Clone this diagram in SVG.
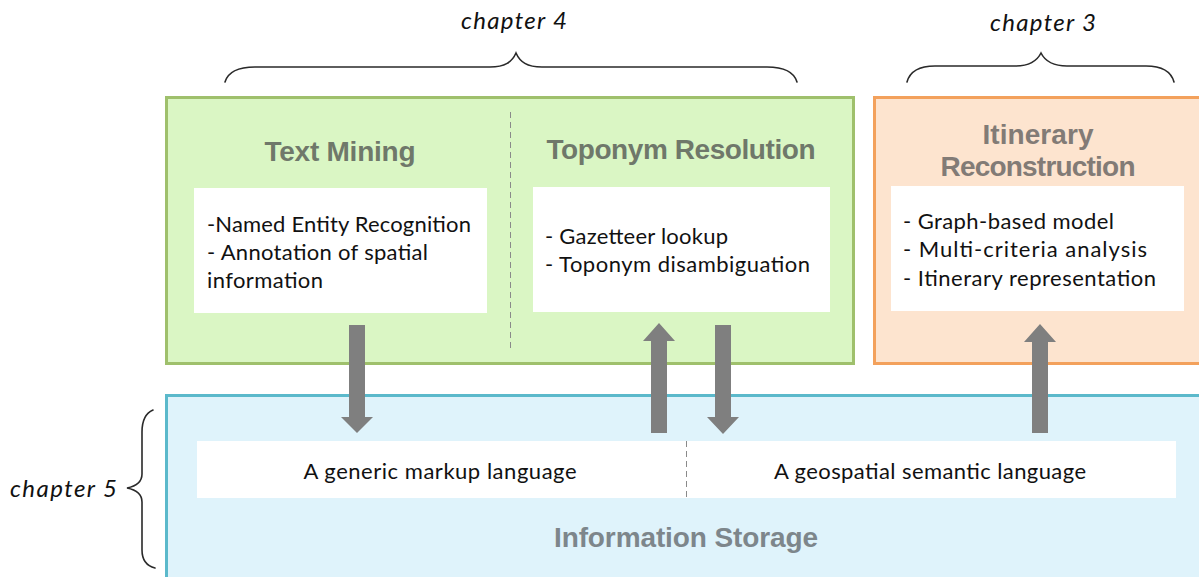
<svg xmlns="http://www.w3.org/2000/svg" width="1199" height="577" viewBox="0 0 1199 577">
<style>
.brace{fill:none;stroke:#2a2a2a;stroke-width:1.6;stroke-linecap:round}
.chap{font-family:Lato,"Liberation Sans",sans-serif;font-style:italic;font-size:24px;fill:#111}
.title{font-family:"Liberation Sans",Arial,sans-serif;font-weight:bold;font-size:28px;text-anchor:middle}
.body{font-family:Lato,"Liberation Sans",sans-serif;font-size:22px;fill:#111}
.wbox{fill:#ffffff}
.div{stroke:#8a8a8a;stroke-width:1;stroke-dasharray:6 4}
.arrow{fill:#7f7f7f}
</style>
<rect width="1199" height="577" fill="#ffffff"/>
<g id="braces">
<path class="brace" d="M225,82 C228,72 238,67 255,67 L490,67 C505,67 512,62 516,53 C520,62 527,67 542,67 L767,67 C784,67 794,72 797,82"/>
<text class="chap" x="461" y="29" textLength="106">chapter 4</text>
<path class="brace" d="M907,82 C910,71 920,66 935,66 L1015,66 C1030,66 1037,61 1041,53 C1045,61 1052,66 1067,66 L1146,66 C1162,66 1171,71 1174,82"/>
<text class="chap" x="990" y="31" textLength="106">chapter 3</text>
<path class="brace" d="M153,410 C146,413 142,420 142,432 L142,474 C142,482 137,486 127,488 C137,490 142,494 142,502 L142,550 C142,560 147,566 155,568"/>
<text class="chap" x="10" y="497" textLength="107">chapter 5</text>
</g>
<g id="text-processing">
<rect x="166.5" y="97.5" width="687" height="266" fill="#daf6c4" stroke="#9fc06c" stroke-width="3"/>
<line class="div" x1="510.5" y1="112" x2="510.5" y2="350"/>
</g>
<g id="text-mining">
<text class="title" x="340" y="161" fill="#6f786a" textLength="151">Text Mining</text>
<rect class="wbox" x="194" y="188" width="293" height="125"/>
<text class="body" x="207" y="232" textLength="264">-Named Entity Recognition</text>
<text class="body" x="207" y="260" textLength="221">- Annotation of spatial</text>
<text class="body" x="207" y="288" textLength="116">information</text>
</g>
<g id="toponym-resolution">
<text class="title" x="681" y="159" fill="#6f786a" textLength="269">Toponym Resolution</text>
<rect class="wbox" x="533" y="187" width="297" height="125"/>
<text class="body" x="545" y="244" textLength="183">- Gazetteer lookup</text>
<text class="body" x="545" y="272" textLength="265">- Toponym disambiguation</text>
</g>
<g id="itinerary-reconstruction">
<rect x="874.5" y="97.5" width="330" height="266" fill="#fde4cf" stroke="#f3a15c" stroke-width="3"/>
<text class="title" x="1038" y="144" fill="#827b76" textLength="111">Itinerary</text>
<text class="title" x="1038" y="176" fill="#827b76" textLength="195">Reconstruction</text>
<rect class="wbox" x="891" y="186" width="293" height="125"/>
<text class="body" x="903" y="229" textLength="211">- Graph-based model</text>
<text class="body" x="903" y="257" textLength="244">- Multi-criteria analysis</text>
<text class="body" x="903" y="286" textLength="253">- Itinerary representation</text>
</g>
<g id="information-storage">
<rect x="166.5" y="395.5" width="1040" height="190" fill="#dff3fb" stroke="#5bb9cb" stroke-width="3"/>
<rect class="wbox" x="197" y="441" width="979" height="57"/>
<line class="div" x1="686.5" y1="441" x2="686.5" y2="498"/>
<text class="body" x="440" y="479" text-anchor="middle" textLength="273">A generic markup language</text>
<text class="body" x="930" y="479" text-anchor="middle" textLength="312">A geospatial semantic language</text>
<text class="title" x="686" y="547" fill="#7d868b" textLength="264">Information Storage</text>
</g>
<g id="connectors">
<polygon class="arrow" points="349,325 365,325 365,417 373,417 357,433 341,417 349,417"/>
<polygon class="arrow" points="651,433 667,433 667,341 675,341 659,323 643,341 651,341"/>
<polygon class="arrow" points="715,325 731,325 731,417 739,417 723,434 707,417 715,417"/>
<polygon class="arrow" points="1032,433 1048,433 1048,342 1056,342 1040,324 1024,342 1032,342"/>
</g>
</svg>
